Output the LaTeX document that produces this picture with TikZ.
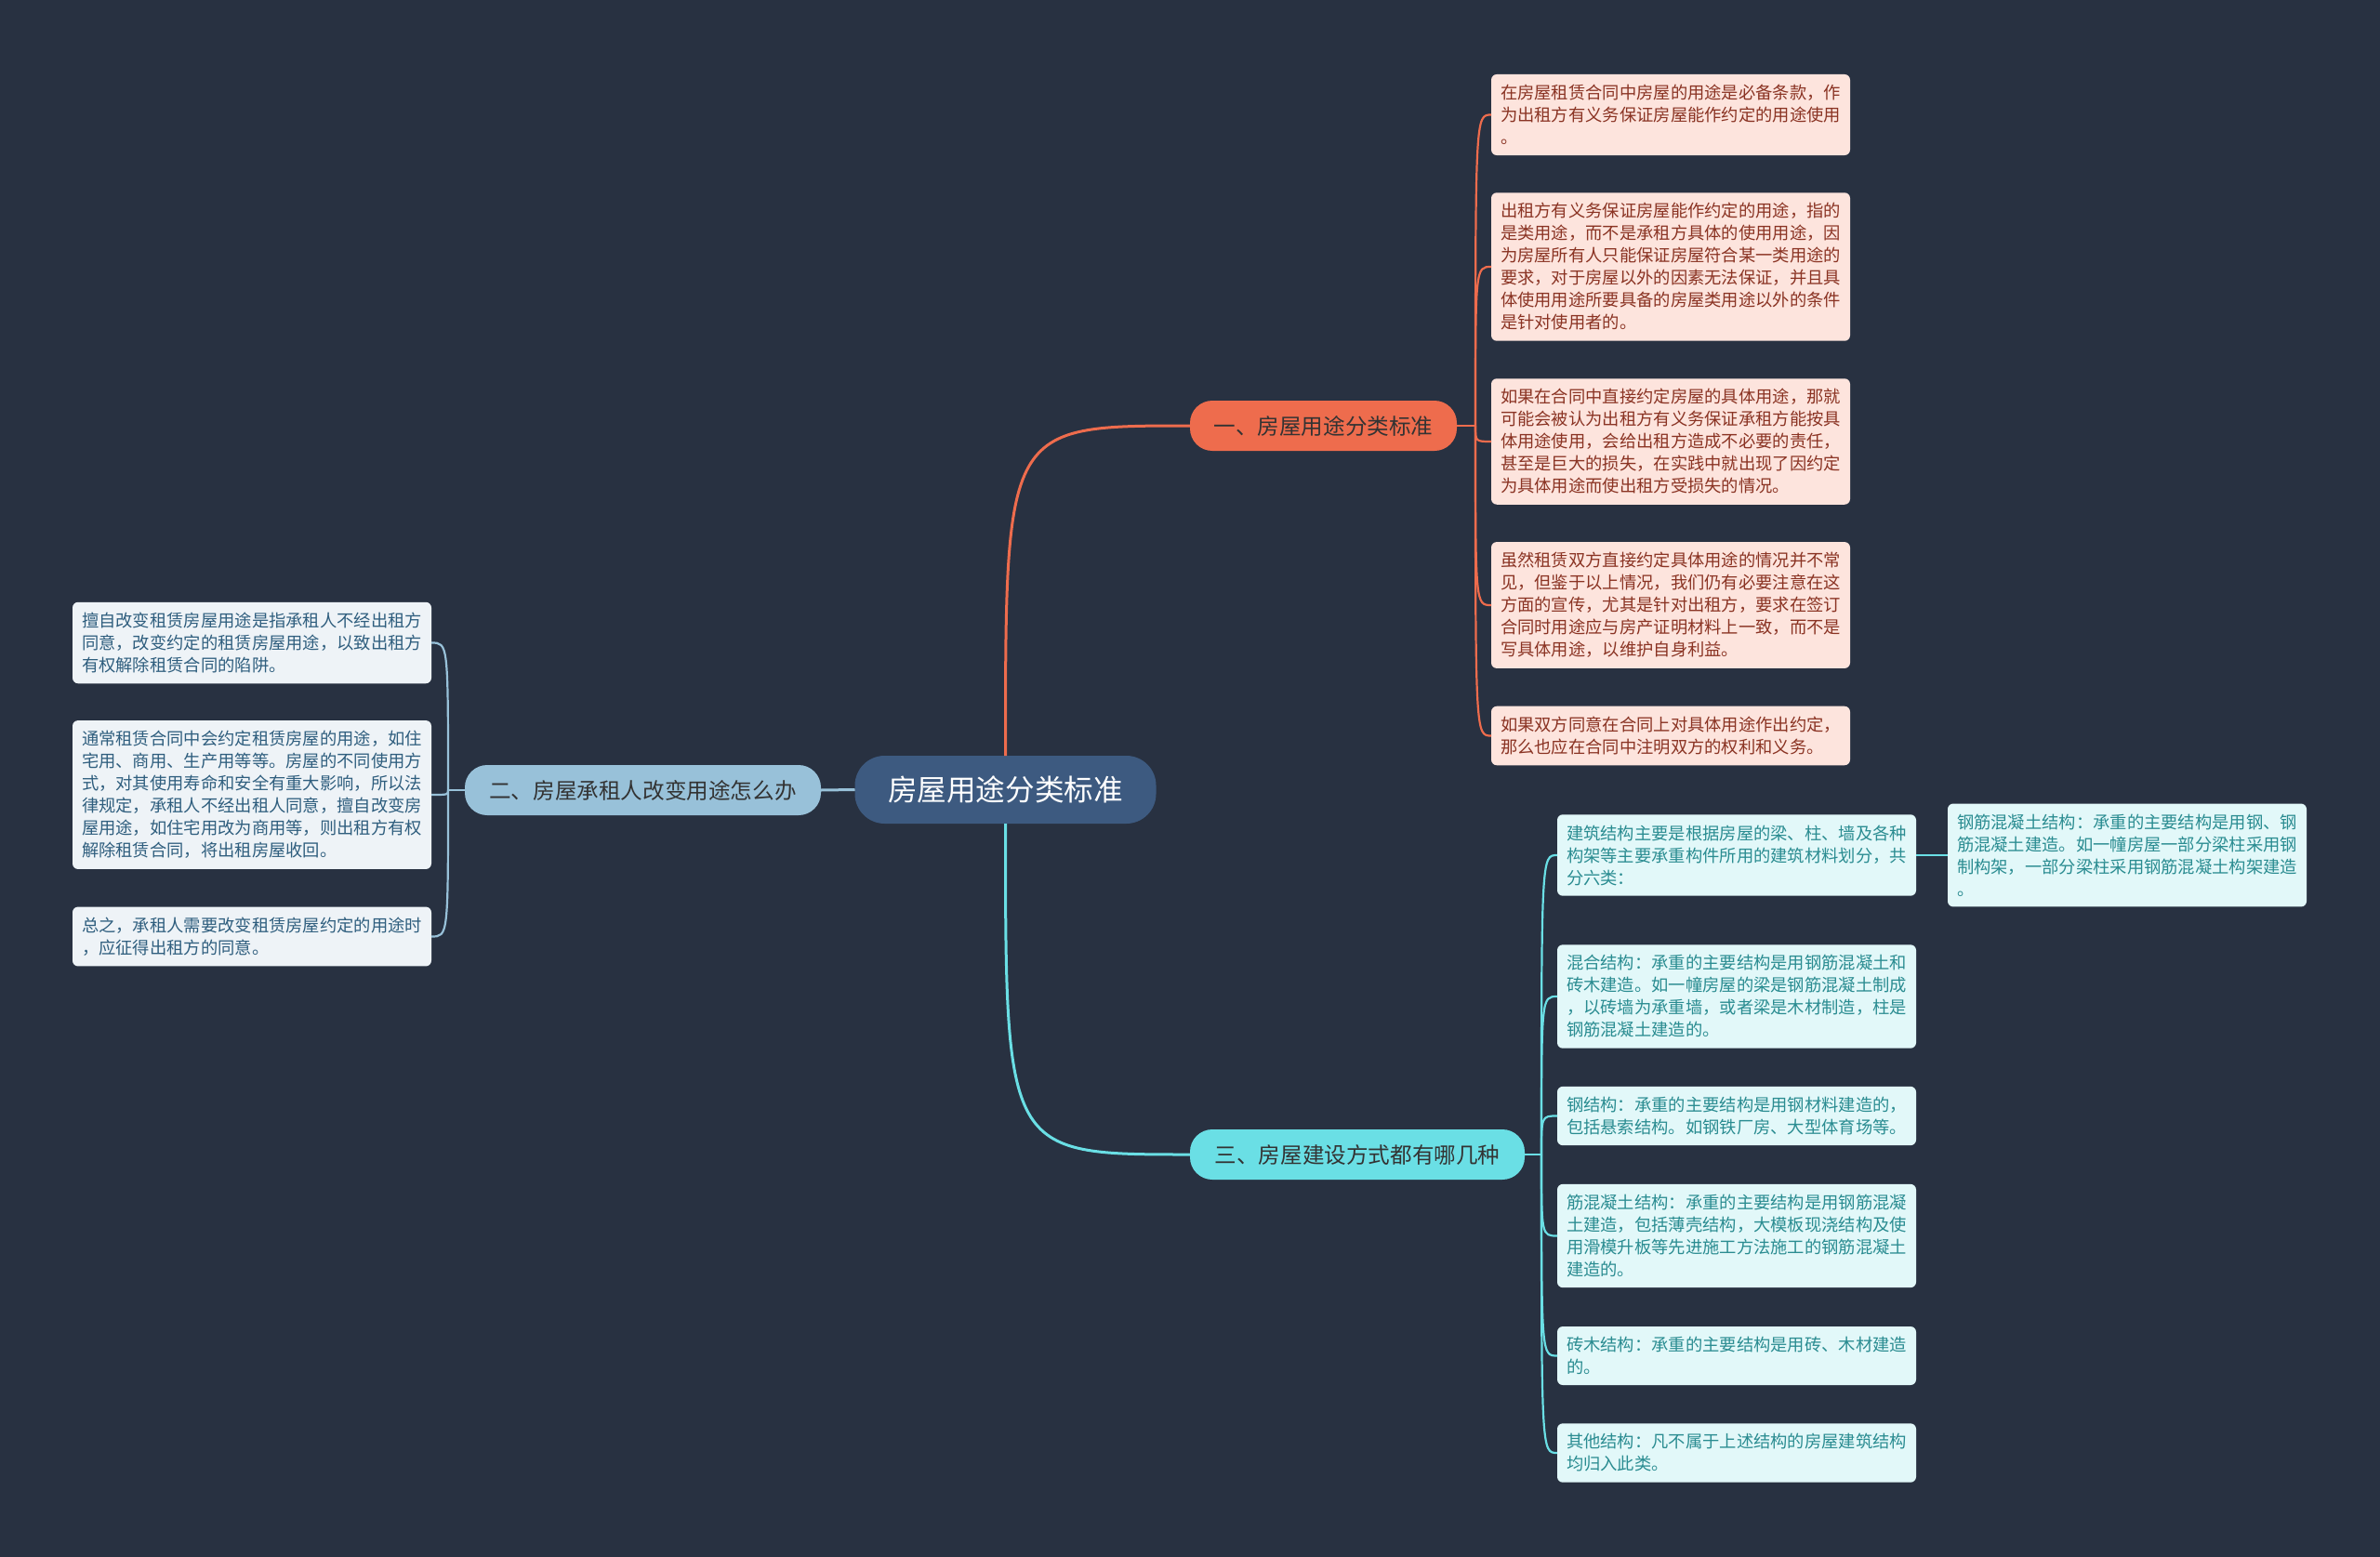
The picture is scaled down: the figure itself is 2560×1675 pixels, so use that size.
\documentclass[tikz,border=0pt]{standalone}
\usepackage{fontspec}
\setmainfont{Noto Sans CJK SC}
\definecolor{mapbg}{HTML}{283141}
\definecolor{rootfill}{HTML}{3D5A80}
\definecolor{redfill}{HTML}{EE6C4D}
\definecolor{redleaf}{HTML}{FDE4DD}
\definecolor{redink}{HTML}{8A3323}
\definecolor{bluefill}{HTML}{98C1D9}
\definecolor{blueleaf}{HTML}{EEF3F7}
\definecolor{blueink}{HTML}{2F5E7E}
\definecolor{cyanfill}{HTML}{6ADFE5}
\definecolor{cyanleaf}{HTML}{E2F8F9}
\definecolor{cyanink}{HTML}{2A8C91}

\begin{document}
\begin{tikzpicture}[
  x=0.5pt,
  y=-0.5pt,
  every node/.style={outer sep=0pt},
  rootbox/.style={fill=rootfill, text=white, rounded corners=16pt,
    minimum width=162pt, minimum height=36.5pt, inner sep=0pt,
    font=\fontsize{15.8}{18}\selectfont},
  topic/.style={rounded corners=12pt, minimum height=27pt, inner sep=0pt,
    text=black!80, font=\fontsize{11.8}{14}\selectfont},
  leaf/.style={anchor=west, rounded corners=3pt, text width=183pt,
    align=left, inner xsep=5pt, inner ysep=5.6pt,
    font=\fontsize{9.15}{12}\selectfont},
  redleafbox/.style={leaf, fill=redleaf, text=redink},
  blueleafbox/.style={leaf, fill=blueleaf, text=blueink},
  cyanleafbox/.style={leaf, fill=cyanleaf, text=cyanink},
  trunk/.style={line width=1.5pt},
  twig/.style={line width=1.1pt}
]
  % ---- canvas ------------------------------------------------------------
  \fill[mapbg] (0,0) rectangle (2560,1675);
  \useasboundingbox (0,0) rectangle (2560,1675);

  % ---- centre and the three topics ---------------------------------------
  \node[rootbox] (root) at (1081.5,849.5) {房屋用途分类标准};
  \node[topic, fill=redfill, minimum width=143.5pt] (use) at (1423.5,458)
    {一、房屋用途分类标准};
  \node[topic, fill=bluefill, minimum width=191.5pt] (change) at (691.5,850)
    {二、房屋承租人改变用途怎么办};
  \node[topic, fill=cyanfill, minimum width=180pt] (build) at (1460,1242)
    {三、房屋建设方式都有哪几种};

  \draw[trunk, redfill] (root.north) .. controls (root.north |- use.west) .. (use.west);
  \draw[trunk, cyanfill] (root.south) .. controls (root.south |- build.west) .. (build.west);
  \draw[trunk, bluefill] (root.west) -- (change.east);

  % ---- leaves of topic one -----------------------------------------------
  \node[redleafbox] (useA) at (1604,123.5)
    {在房屋租赁合同中房屋的用途是必备条款，作\\为出租方有义务保证房屋能作约定的用途使用\\。};
  \node[redleafbox] (useB) at (1604,287)
    {出租方有义务保证房屋能作约定的用途，指的\\是类用途，而不是承租方具体的使用用途，因\\为房屋所有人只能保证房屋符合某一类用途的\\要求，对于房屋以外的因素无法保证，并且具\\体使用用途所要具备的房屋类用途以外的条件\\是针对使用者的。};
  \node[redleafbox] (useC) at (1604,475)
    {如果在合同中直接约定房屋的具体用途，那就\\可能会被认为出租方有义务保证承租方能按具\\体用途使用，会给出租方造成不必要的责任，\\甚至是巨大的损失，在实践中就出现了因约定\\为具体用途而使出租方受损失的情况。};
  \node[redleafbox] (useD) at (1604,651)
    {虽然租赁双方直接约定具体用途的情况并不常\\见，但鉴于以上情况，我们仍有必要注意在这\\方面的宣传，尤其是针对出租方，要求在签订\\合同时用途应与房产证明材料上一致，而不是\\写具体用途，以维护自身利益。};
  \node[redleafbox] (useE) at (1604,791.5)
    {如果双方同意在合同上对具体用途作出约定，\\那么也应在合同中注明双方的权利和义务。};

  \coordinate (useS) at ([xshift=10pt]use.east);
  \draw[twig, redfill] (use.east) -- (useS);
  \foreach \leafname in {useA,useB,useC,useD,useE}
    \draw[twig, redfill] (useS) .. controls (useS |- \leafname.west) .. (\leafname.west);

  % ---- leaves of topic two -----------------------------------------------
  \node[blueleafbox] (changeA) at (78,691.5)
    {擅自改变租赁房屋用途是指承租人不经出租方\\同意，改变约定的租赁房屋用途，以致出租方\\有权解除租赁合同的陷阱。};
  \node[blueleafbox] (changeB) at (78,855)
    {通常租赁合同中会约定租赁房屋的用途，如住\\宅用、商用、生产用等等。房屋的不同使用方\\式，对其使用寿命和安全有重大影响，所以法\\律规定，承租人不经出租人同意，擅自改变房\\屋用途，如住宅用改为商用等，则出租方有权\\解除租赁合同，将出租房屋收回。};
  \node[blueleafbox] (changeC) at (78,1007.5)
    {总之，承租人需要改变租赁房屋约定的用途时\\，应征得出租方的同意。};

  \coordinate (changeS) at ([xshift=-9pt]change.west);
  \draw[twig, bluefill] (change.west) -- (changeS);
  \foreach \leafname in {changeA,changeB,changeC}
    \draw[twig, bluefill] (changeS) .. controls (changeS |- \leafname.east) .. (\leafname.east);

  % ---- leaves of topic three ---------------------------------------------
  \node[cyanleafbox] (buildA) at (1675,920)
    {建筑结构主要是根据房屋的梁、柱、墙及各种\\构架等主要承重构件所用的建筑材料划分，共\\分六类：};
  \node[cyanleafbox] (buildB) at (1675,1072)
    {混合结构：承重的主要结构是用钢筋混凝土和\\砖木建造。如一幢房屋的梁是钢筋混凝土制成\\，以砖墙为承重墙，或者梁是木材制造，柱是\\钢筋混凝土建造的。};
  \node[cyanleafbox] (buildC) at (1675,1200.5)
    {钢结构：承重的主要结构是用钢材料建造的，\\包括悬索结构。如钢铁厂房、大型体育场等。};
  \node[cyanleafbox] (buildD) at (1675,1329.5)
    {筋混凝土结构：承重的主要结构是用钢筋混凝\\土建造，包括薄壳结构，大模板现浇结构及使\\用滑模升板等先进施工方法施工的钢筋混凝土\\建造的。};
  \node[cyanleafbox] (buildE) at (1675,1458.5)
    {砖木结构：承重的主要结构是用砖、木材建造\\的。};
  \node[cyanleafbox] (buildF) at (1675,1563)
    {其他结构：凡不属于上述结构的房屋建筑结构\\均归入此类。};
  \node[cyanleafbox] (buildAA) at (2095,920)
    {钢筋混凝土结构：承重的主要结构是用钢、钢\\筋混凝土建造。如一幢房屋一部分梁柱采用钢\\制构架，一部分梁柱采用钢筋混凝土构架建造\\。};

  \coordinate (buildS) at ([xshift=9pt]build.east);
  \draw[twig, cyanfill] (build.east) -- (buildS);
  \foreach \leafname in {buildA,buildB,buildC,buildD,buildE,buildF}
    \draw[twig, cyanfill] (buildS) .. controls (buildS |- \leafname.west) .. (\leafname.west);
  \draw[twig, cyanfill] (buildA.east) -- (buildAA.west);
\end{tikzpicture}
\end{document}
